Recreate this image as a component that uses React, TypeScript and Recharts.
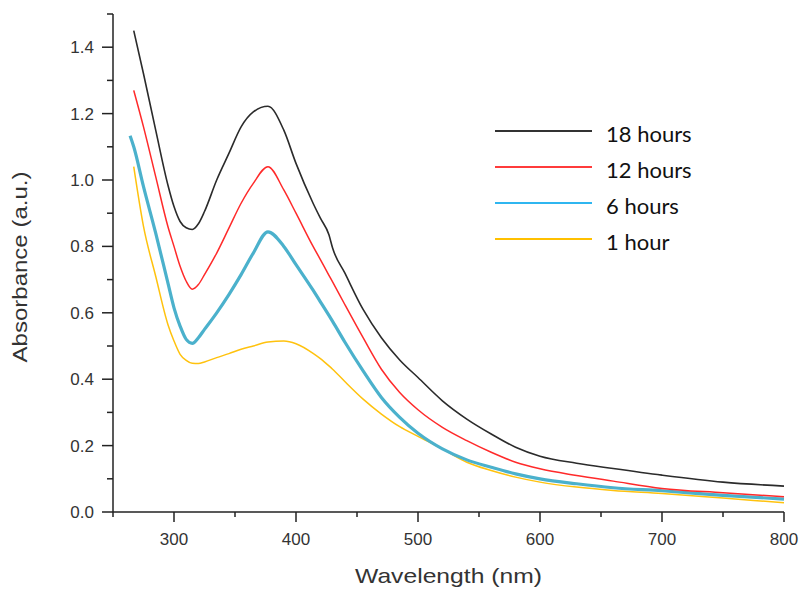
import React from 'react';
import { LineChart, Line, XAxis, YAxis, Legend } from 'recharts';

// wavelength grid (nm) shared by all spectra
const wavelengths = [
  264, 267, 275, 285, 295, 300, 305, 310, 315, 320, 325, 335, 345, 355, 365, 377, 390, 400, 414,
  420, 427, 430, 440, 455, 470, 485, 500, 520, 540, 560, 580, 600, 630, 660, 700, 750, 800,
];

const hours18 = [
  null, 1.45, 1.32, 1.15, 0.985, 0.92, 0.875, 0.856, 0.851, 0.868, 0.905, 1.0, 1.08, 1.16, 1.205, 1.222, 1.15, 1.05, 0.93,
  0.885, 0.835, 0.795, 0.72, 0.61, 0.525, 0.458, 0.405, 0.335, 0.28, 0.235, 0.195, 0.168, 0.147, 0.131, 0.111, 0.09, 0.078,
];

const hours12 = [
  null, 1.27, 1.16, 1.01, 0.86, 0.8, 0.74, 0.695, 0.671, 0.685, 0.715, 0.78, 0.855, 0.93, 0.99, 1.04, 0.97, 0.9, 0.8,
  0.76, 0.713, 0.693, 0.625, 0.525, 0.43, 0.36, 0.308, 0.255, 0.215, 0.18, 0.15, 0.13, 0.11, 0.093, 0.071, 0.058, 0.046,
];

const hours6 = [
  1.133, 1.1, 0.98, 0.84, 0.69, 0.615, 0.56, 0.52, 0.508, 0.525, 0.55, 0.6, 0.655, 0.715, 0.78, 0.844, 0.8, 0.745, 0.668,
  0.633, 0.592, 0.574, 0.512, 0.425, 0.345, 0.285, 0.237, 0.19, 0.157, 0.135, 0.115, 0.1, 0.085, 0.073, 0.064, 0.05, 0.039,
];

const hour1 = [
  null, 1.04, 0.86, 0.71, 0.565, 0.515, 0.475, 0.457, 0.448, 0.447, 0.452, 0.465, 0.477, 0.49, 0.5, 0.512, 0.515, 0.507, 0.478,
  0.462, 0.44, 0.43, 0.393, 0.34, 0.295, 0.257, 0.228, 0.19, 0.15, 0.125, 0.105, 0.09, 0.075, 0.065, 0.056, 0.042, 0.028,
];

const xTicks = [250, 300, 350, 400, 450, 500, 550, 600, 650, 700, 750, 800];
const yTicks = [0, 0.1, 0.2, 0.3, 0.4, 0.5, 0.6, 0.7, 0.8, 0.9, 1.0, 1.1, 1.2, 1.3, 1.4, 1.5];

const series = [
  { key: 'h18', name: '18 hours', color: '#2b2b2b', legendColor: '#333333', width: 1.6 },
  { key: 'h12', name: '12 hours', color: '#ff2a2a', legendColor: '#ff3b3b', width: 1.5 },
  { key: 'h6', name: '6 hours', color: '#4bb1cc', legendColor: '#2fb6f0', width: 3.2 },
  { key: 'h1', name: '1 hour', color: '#ffc20e', legendColor: '#ffc000', width: 1.5 },
];

const data = wavelengths.map((w, i) => ({
  w,
  h18: hours18[i],
  h12: hours12[i],
  h6: hours6[i],
  h1: hour1[i],
}));

const axisColor = '#222';
const textColor = '#333';
const tickFont = '"Liberation Sans", Arial, sans-serif';

const XTick = (props: any) => {
  const { x, y, payload } = props;
  const v = payload.value;
  const major = v % 100 === 0;
  return (
    <g>
      <line x1={x} y1={y} x2={x} y2={y + (major ? 10 : 5)} stroke={axisColor} strokeWidth={1.5} />
      {major && (
        <text x={x} y={y + 33} textAnchor="middle" fontSize={17} fill={textColor} fontFamily={tickFont}>
          {v}
        </text>
      )}
    </g>
  );
};

const YTick = (props: any) => {
  const { x, y, payload } = props;
  const v = payload.value;
  const tenth = Math.round(v * 10);
  const major = tenth % 2 === 0 && tenth < 15;
  return (
    <g>
      <line x1={x - (major ? 11 : 6)} y1={y} x2={x} y2={y} stroke={axisColor} strokeWidth={1.5} />
      {major && (
        <text x={x - 19} y={y + 6} textAnchor="end" fontSize={17} fill={textColor} fontFamily={tickFont}>
          {v.toFixed(1)}
        </text>
      )}
    </g>
  );
};

const XLabel = (props: any) => {
  const { x, y, width } = props.viewBox;
  return (
    <text
      x={x + width / 2}
      y={y + 71}
      textAnchor="middle"
      fontSize={21}
      fill={textColor}
      fontFamily={tickFont}
      textLength={187}
      lengthAdjust="spacingAndGlyphs"
    >
      Wavelength (nm)
    </text>
  );
};

const YLabel = (props: any) => {
  const { y, height } = props.viewBox;
  const cx = 27;
  const cy = y + height / 2 + 4;
  return (
    <text
      x={cx}
      y={cy}
      transform={`rotate(-90, ${cx}, ${cy})`}
      textAnchor="middle"
      fontSize={20}
      fill={textColor}
      fontFamily={tickFont}
      textLength={191}
      lengthAdjust="spacingAndGlyphs"
    >
      Absorbance (a.u.)
    </text>
  );
};

const renderLegend = () => (
  <svg width={220} height={150}>
    {series.map((s, i) => (
      <g key={s.key}>
        <line x1={5} y1={16 + i * 36} x2={102} y2={16 + i * 36} stroke={s.legendColor} strokeWidth={2} />
        <text x={116} y={27 + i * 36} fontSize={22} fill="#111" fontFamily="Lato, sans-serif">
          {s.name}
        </text>
      </g>
    ))}
  </svg>
);

export default function App() {
  return (
    <div style={{ position: 'absolute', left: 0, top: 0, background: '#fff' }}>
      <LineChart width={802} height={590} data={data} margin={{ top: 14, right: 18, bottom: 38, left: 53 }}>
        <XAxis
          dataKey="w"
          type="number"
          domain={[250, 800]}
          ticks={xTicks}
          interval={0}
          height={40}
          tickSize={0}
          tickMargin={0}
          tickLine={false}
          tick={<XTick />}
          axisLine={{ stroke: axisColor, strokeWidth: 1.5 }}
          label={{ content: XLabel }}
        />
        <YAxis
          type="number"
          domain={[0, 1.5]}
          ticks={yTicks}
          interval={0}
          width={60}
          tickSize={0}
          tickMargin={0}
          tickLine={false}
          tick={<YTick />}
          axisLine={{ stroke: axisColor, strokeWidth: 1.5 }}
          label={{ content: YLabel }}
        />
        {[...series].reverse().map((s) => (
          <Line
            key={s.key}
            type="monotone"
            dataKey={s.key}
            name={s.name}
            stroke={s.color}
            strokeWidth={s.width}
            dot={false}
            activeDot={false}
            isAnimationActive={false}
          />
        ))}
        <Legend
          content={renderLegend}
          layout="vertical"
          align="center"
          verticalAlign="middle"
          wrapperStyle={{ left: 490, top: 115, width: 220, height: 150 }}
        />
      </LineChart>
    </div>
  );
}
